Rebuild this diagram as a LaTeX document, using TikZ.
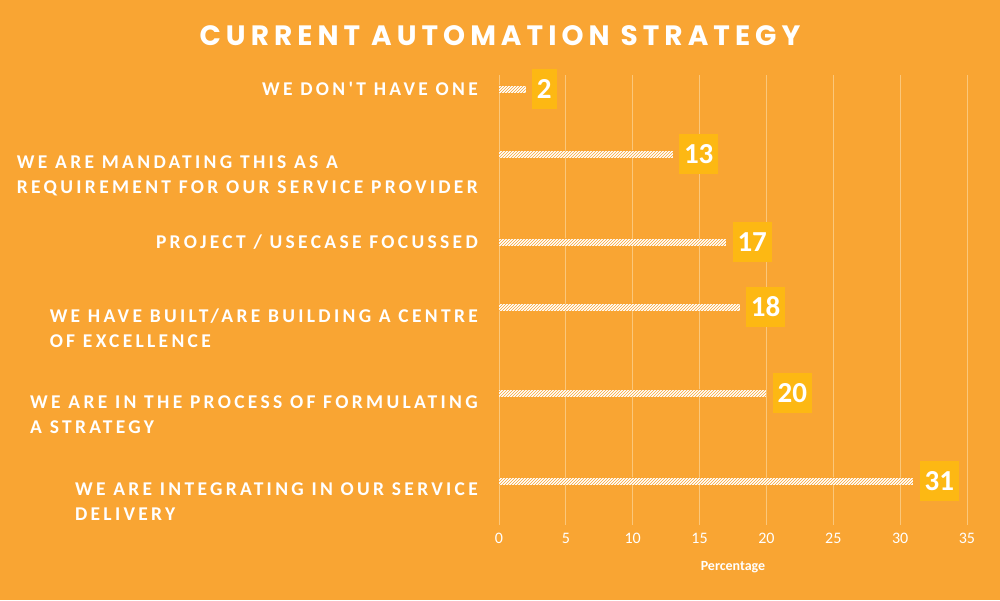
\documentclass[tikz,border=0pt]{standalone}
\usepackage{fontspec}
\setmainfont{Carlito}
\newfontfamily\titlefont[LetterSpace=18]{Poppins Bold}
\newfontfamily\labfont[LetterSpace=17]{Carlito Bold}
\newfontfamily\numfont{Carlito Bold}
\usetikzlibrary{patterns}
\definecolor{bg}{HTML}{F9A533}
\definecolor{boxc}{HTML}{FDB813}
\definecolor{grid}{HTML}{FBC77A}
\tikzset{
 lab/.style={anchor=east,align=right,text=white,font=\labfont\fontsize{19.5}{25}\selectfont,inner sep=0},
 bar/.style={fill=white,postaction={pattern=north east lines,pattern color=bg}},
 val/.style={anchor=west,fill=boxc,text=white,font=\numfont\fontsize{29}{29}\selectfont,minimum height=40pt,inner xsep=5pt,inner ysep=0},
 tick/.style={text=white,font=\fontsize{16}{16}\selectfont}
}
\begin{document}
\begin{tikzpicture}[x=1pt,y=-1pt]
\fill[bg] (0,0) rectangle (1000,600);
\useasboundingbox (0,0) rectangle (1000,600);
\node[text=white,font=\titlefont\fontsize{28}{28}\selectfont] (title) at (500,36) {CURRENT AUTOMATION STRATEGY};
\foreach \v [count=\i] in {0,5,...,35}{
  \draw[grid,line width=0.8pt] ({499+\v*13.37},75) -- ({499+\v*13.37},525);
  \node[tick] (t\i) at ({499+\v*13.37},538) {\v};
}
\node[text=white,font=\numfont\fontsize{14}{14}\selectfont] (xl) at (733,567) {Percentage};
\foreach \y/\v [count=\i] in {89/2,154/13,242/17,307/18,393/20,481/31}{
  \path[bar] (499,\y-3.5) rectangle ({499+\v*13.37},\y+3.5);
  \coordinate (e\i) at ({499+\v*13.37+6},\y);
  \node[val] (v\i) at (e\i) {\v};
}
\node[lab] (l1) at (478,89) {WE DON'T HAVE ONE};
\node[lab,align=left] (l2) at (478,176) {WE ARE MANDATING THIS AS A\\REQUIREMENT FOR OUR SERVICE PROVIDER};
\node[lab] (l3) at (478,242) {PROJECT / USECASE FOCUSSED};
\node[lab,align=left] (l4) at (478,328) {WE HAVE BUILT/ARE BUILDING A CENTRE\\OF EXCELLENCE};
\node[lab,align=left] (l5) at (478,415) {WE ARE IN THE PROCESS OF FORMULATING\\A STRATEGY};
\node[lab,align=left] (l6) at (478,502) {WE ARE INTEGRATING IN OUR SERVICE\\DELIVERY};
\end{tikzpicture}
\end{document}
